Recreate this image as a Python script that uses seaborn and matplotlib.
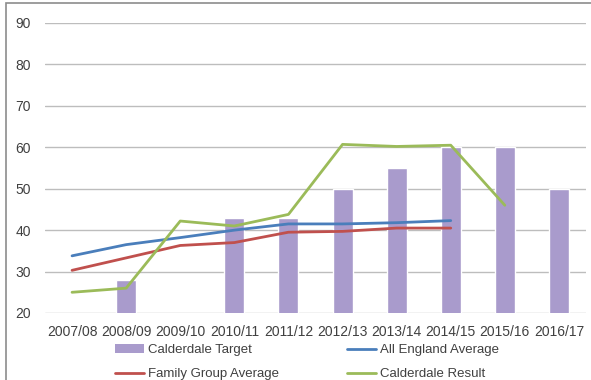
import numpy as np
import pandas as pd
import matplotlib
matplotlib.use("Agg")
import matplotlib.pyplot as plt
import seaborn as sns
from matplotlib.patches import Rectangle, Patch
from matplotlib.lines import Line2D

years = ["2007/08", "2008/09", "2009/10", "2010/11", "2011/12",
         "2012/13", "2013/14", "2014/15", "2015/16", "2016/17"]
calderdale_target = [np.nan, 28, np.nan, 43, 43, 50, 55, 60, 60, 50]
all_england_avg = [33.8, 36.5, 38.2, 40.0, 41.5, 41.5, 41.8, 42.3, np.nan, np.nan]
family_group_avg = [30.3, 33.3, 36.3, 37.0, 39.5, 39.7, 40.5, 40.5, np.nan, np.nan]
calderdale_result = [25.0, 26.0, 42.2, 41.0, 43.8, 60.7, 60.2, 60.5, 46.0, np.nan]
y_ticks = [20, 30, 40, 50, 60, 70, 80, 90]

c_bar = "#A99BCC"
c_blue = "#4A7EBB"
c_red = "#C0504D"
c_green = "#9BBB59"
txt = "#404040"

sns.set_theme(style="white")
plt.rcParams["font.family"] = ["Liberation Sans", "DejaVu Sans"]

df = pd.DataFrame({"year": years, "pos": np.arange(len(years)),
                   "target": calderdale_target, "england": all_england_avg,
                   "family": family_group_avg, "result": calderdale_result})

fig = plt.figure(figsize=(5.91, 3.80), dpi=100)
ax = fig.add_axes([45/591, 1 - 313/380, 541/591, 290/380])

sns.barplot(data=df, x="year", y="target", order=years, color=c_bar,
            width=0.37, saturation=1, ax=ax, zorder=2)
for col, c in [("england", c_blue), ("family", c_red), ("result", c_green)]:
    sns.lineplot(data=df, x="pos", y=col, color=c, linewidth=2.0, ax=ax, zorder=3)

ax.set_ylim(20, 90)
ax.set_xlim(-0.5, len(years) - 0.5)
ax.set_yticks(y_ticks)
ax.set_xticks(np.arange(len(years)))
ax.set_xticklabels(years)
ax.set_xlabel("")
ax.set_ylabel("")
ax.yaxis.grid(True, color="#BDBDBD", linewidth=1.0, zorder=0)
ax.set_axisbelow(True)
for s in ["top", "right", "left", "bottom"]:
    ax.spines[s].set_visible(False)
ax.tick_params(axis="both", length=0, labelsize=10, colors=txt)
ax.tick_params(axis="y", pad=10)
ax.tick_params(axis="x", pad=9)

fs = 9.5
common = dict(frameon=False, loc="center left", fontsize=fs,
              handlelength=2.2, handleheight=0.6, handletextpad=0.3,
              labelspacing=0.9, borderaxespad=0, borderpad=0)
leg1 = fig.legend([Patch(facecolor=c_bar, edgecolor="none"),
                   Line2D([], [], color=c_red, linewidth=2)],
                  ["Calderdale Target", "Family Group Average"],
                  bbox_to_anchor=(115/591, 1 - 362/380), **common)
leg2 = fig.legend([Line2D([], [], color=c_blue, linewidth=2),
                   Line2D([], [], color=c_green, linewidth=2)],
                  ["All England Average", "Calderdale Result"],
                  bbox_to_anchor=(347/591, 1 - 362/380), **common)
for leg in (leg1, leg2):
    for t in leg.get_texts():
        t.set_color(txt)

fig.patches.append(Rectangle((6/591, -0.1), 2, 1 - 3/380 + 0.1,
                             transform=fig.transFigure, fill=False,
                             edgecolor="#8C8C8C", linewidth=1.2))

fig.savefig("out.png", dpi=100)
